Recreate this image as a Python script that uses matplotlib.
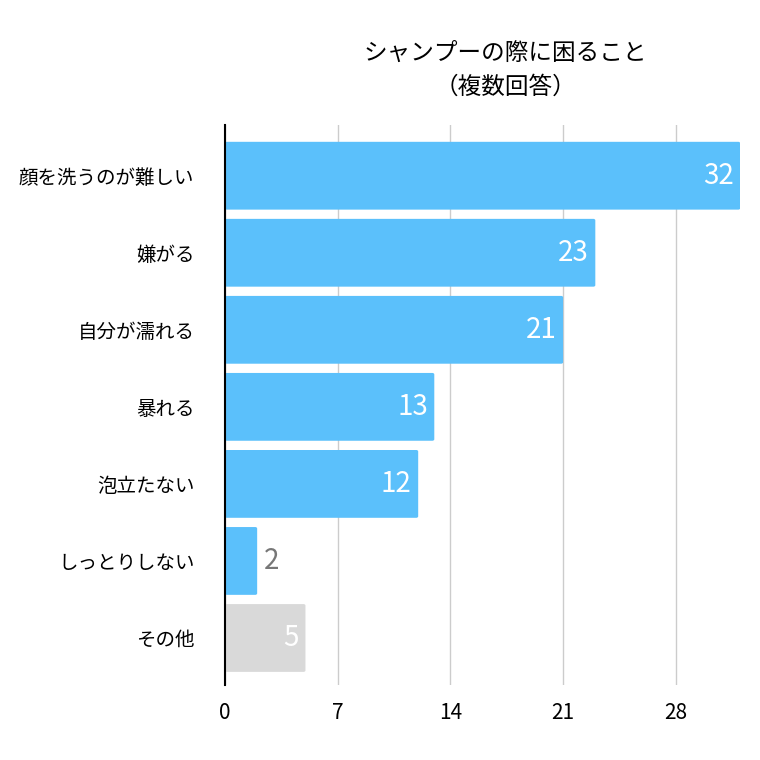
import matplotlib.pyplot as plt
from matplotlib.patches import FancyBboxPatch

plt.rcParams["font.family"] = "Noto Sans CJK JP"

categories = ["顔を洗うのが難しい", "嫌がる", "自分が濡れる", "暴れる", "泡立たない", "しっとりしない", "その他"]
values = [32, 23, 21, 13, 12, 2, 5]
colors = ["#5bc0fb"] * 6 + ["#d9d9d9"]
xticks = [0, 7, 14, 21, 28]

fig = plt.figure(figsize=(7.6, 7.6), dpi=100)
ax = fig.add_axes([0.296, 0.0987, 0.678, 0.737])

h = 0.88
for i, (v, c) in enumerate(zip(values, colors)):
    ax.add_patch(FancyBboxPatch((0, i - h / 2), v, h,
                                boxstyle="round,pad=0,rounding_size=0.12",
                                mutation_aspect=1 / 6.0,
                                facecolor=c, edgecolor="none", zorder=3))
    if v >= 5:
        ax.text(v - 0.4, i, str(v), ha="right", va="center", color="white",
                fontsize=20, zorder=4)
    else:
        ax.text(v + 0.4, i, str(v), ha="left", va="center", color="#777777",
                fontsize=20, zorder=4)

ax.set_xlim(0, 32)
ax.set_ylim(6.61, -0.66)
ax.set_yticks(range(len(categories)))
ax.set_yticklabels(categories, fontsize=14)
ax.set_xticks(xticks)
ax.set_xticklabels([str(t) for t in xticks], fontsize=15)
ax.tick_params(length=0, pad=12)
ax.tick_params(axis="y", pad=22)
ax.grid(axis="x", color="#cccccc", linewidth=1, zorder=0)
for s in ["top", "right", "bottom"]:
    ax.spines[s].set_visible(False)
ax.spines["left"].set_color("black")
ax.spines["left"].set_linewidth(1.5)
ax.spines["left"].set_zorder(5)

fig.text(0.665, 0.907, "シャンプーの際に困ること\n（複数回答）", ha="center", va="center",
         fontsize=17, linespacing=1.6)

fig.savefig("out.png", facecolor="white")
